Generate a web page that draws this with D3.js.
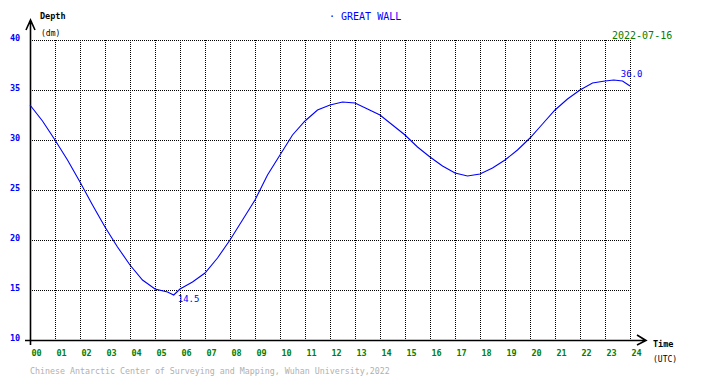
<!DOCTYPE html>
<html>
<head>
<meta charset="utf-8">
<script src="https://cdn.jsdelivr.net/npm/d3@7"></script>
<style>
  body { margin: 0; background: #fff; }
  text { font-family: "DejaVu Sans Mono", monospace; }
</style>
</head>
<body>
<div id="chart"></div>
<script>
// Tide depth at Great Wall station, 2022-07-16
const hours = [0, 0.5, 1, 1.5, 2, 2.5, 3, 3.5, 4, 4.5, 5, 5.5, 5.75, 6, 6.5, 7, 7.5, 8, 8.5, 9,
  9.5, 10, 10.5, 11, 11.5, 12, 12.5, 13, 13.5, 14, 14.5, 15, 15.5, 16, 16.5, 17, 17.5, 18,
  18.5, 19, 19.5, 20, 20.5, 21, 21.5, 22, 22.5, 23, 23.35, 23.7, 24];
const depth = [33.5, 31.9, 30.0, 28.0, 25.8, 23.5, 21.3, 19.3, 17.5, 16.0, 15.1, 14.8, 14.5, 15.1, 15.8, 16.7, 18.2, 20.0, 22.0, 24.0,
  26.5, 28.5, 30.5, 31.9, 33.0, 33.5, 33.8, 33.7, 33.1, 32.5, 31.5, 30.5, 29.3, 28.3, 27.4, 26.7, 26.4, 26.6,
  27.2, 28.0, 29.0, 30.2, 31.6, 33.0, 34.1, 35.0, 35.7, 35.9, 36.0, 35.9, 35.4];
const xTicks = d3.range(0, 25);
const yTicks = [10, 15, 20, 25, 30, 35, 40];

const W = 710, H = 378;
const x = d3.scaleLinear().domain([0, 24]).range([30, 630]);
const y = d3.scaleLinear().domain([10, 40]).range([340, 40]);

const svg = d3.select("#chart").append("svg")
  .attr("width", W).attr("height", H);
svg.append("rect").attr("width", W).attr("height", H).attr("fill", "#fff");

// dotted grid
const grid = svg.append("g").attr("stroke", "#000").attr("stroke-dasharray", "1,1")
  .attr("shape-rendering", "crispEdges");
grid.selectAll(".v").data(xTicks.slice(1)).join("line")
  .attr("x1", d => x(d) + 0.5).attr("x2", d => x(d) + 0.5)
  .attr("y1", y(40)).attr("y2", y(10));
grid.selectAll(".h").data(yTicks.slice(1)).join("line")
  .attr("x1", x(0)).attr("x2", x(24))
  .attr("y1", d => y(d) + 0.5).attr("y2", d => y(d) + 0.5);

// axes labels via d3 axes
const xAxis = svg.append("g")
  .attr("transform", `translate(0,${y(10)})`)
  .call(d3.axisBottom(x).tickValues(xTicks).tickFormat(d3.format("02d")).tickSize(0).tickPadding(10));
xAxis.select(".domain").remove();
xAxis.selectAll("text")
  .attr("fill", "#008000").attr("font-size", 8.5).attr("font-weight", "bold")
  .attr("text-anchor", "start").attr("dx", 1);

const yAxis = svg.append("g")
  .attr("transform", `translate(${x(0)},0)`)
  .call(d3.axisLeft(y).tickValues(yTicks).tickSize(0).tickPadding(0));
yAxis.select(".domain").remove();
yAxis.selectAll("text")
  .attr("fill", "#0000ff").attr("font-size", 8.5).attr("font-weight", "bold")
  .attr("text-anchor", "start").attr("x", -20).attr("dy", "0.1em");

// axis lines with arrows
const ax = svg.append("g").attr("stroke", "#000").attr("fill", "none")
  .attr("stroke-width", 1.6);
ax.append("path").attr("d", `M${x(0) + 0.5},345 V20 M26,30 L${x(0) + 0.5},20 L35,30`);
ax.append("path").attr("d", `M25,${y(10) + 0.5} H646 M637,335 L646,${y(10) + 0.5} L637,345`);

// tide curve
svg.append("path")
  .datum(hours.map((h, i) => [h, depth[i]]))
  .attr("fill", "none").attr("stroke", "#0000ff").attr("stroke-width", 1.1)
  .attr("d", d3.line().x(d => x(d[0])).y(d => y(d[1])));

// extreme labels
const iMin = d3.minIndex(depth), iMax = d3.maxIndex(depth);
svg.append("text").attr("x", x(hours[iMin]) + 4).attr("y", y(depth[iMin]) + 7)
  .attr("fill", "#0000ff").attr("font-size", 9).text(depth[iMin].toFixed(1));
svg.append("text").attr("x", x(hours[iMax]) + 7).attr("y", y(depth[iMax]) - 3)
  .attr("fill", "#0000ff").attr("font-size", 9).text(depth[iMax].toFixed(1));

// titles
svg.append("text").attr("x", 40).attr("y", 19).attr("font-size", 8.5).attr("font-weight", "bold")
  .attr("fill", "#000").text("Depth");
svg.append("text").attr("x", 41).attr("y", 36).attr("font-size", 8).attr("fill", "#000").text("(dm)");
svg.append("text").attr("x", 653).attr("y", 347).attr("font-size", 8.5).attr("font-weight", "bold")
  .attr("fill", "#000").text("Time");
svg.append("text").attr("x", 653).attr("y", 362).attr("font-size", 8).attr("fill", "#000").text("(UTC)");
svg.append("text").attr("x", 329).attr("y", 20).attr("font-size", 10).attr("fill", "#0000ff")
  .text("· GREAT WALL");
svg.append("text").attr("x", 612).attr("y", 39).attr("font-size", 10).attr("fill", "#008000")
  .text("2022-07-16");
svg.append("text").attr("x", 30).attr("y", 374).attr("font-size", 8.3).attr("fill", "#b0b0b0")
  .text("Chinese Antarctic Center of Surveying and Mapping, Wuhan University,2022");
</script>
</body>
</html>
